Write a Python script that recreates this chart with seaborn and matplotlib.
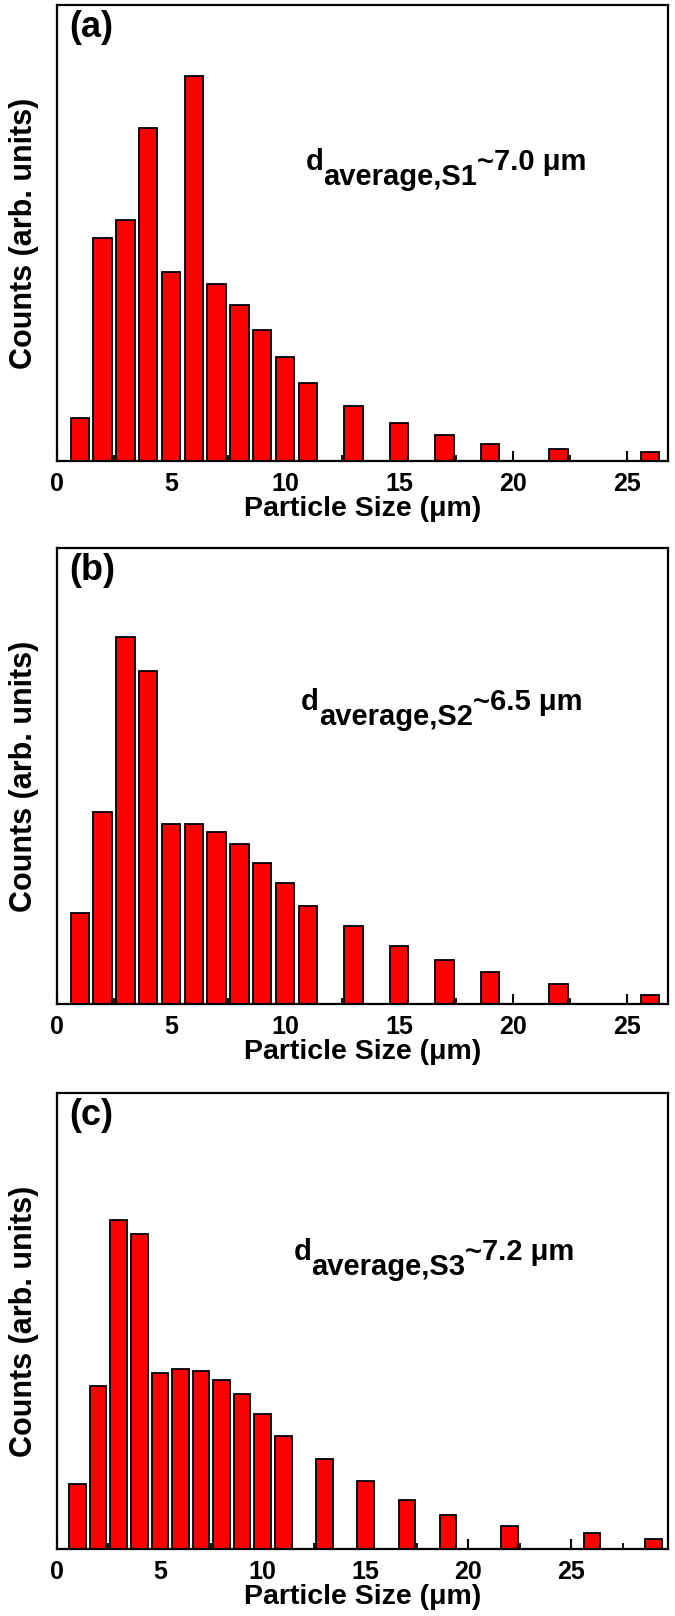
import numpy as np
import pandas as pd
import seaborn as sns
import matplotlib
matplotlib.use("Agg")
import matplotlib.pyplot as plt
from matplotlib.ticker import MultipleLocator

# ---------------- data (arbitrary units) ----------------
sizes_ab = [1, 2, 3, 4, 5, 6, 7, 8, 9, 10, 11, 13, 15, 17, 19, 22, 26]
sizes_c = [1, 2, 3, 4, 5, 6, 7, 8, 9, 10, 11, 13, 15, 17, 19, 22, 26, 29]

counts_s1 = [0.095, 0.490, 0.529, 0.730, 0.414, 0.844, 0.388, 0.343, 0.287,
             0.227, 0.170, 0.121, 0.083, 0.056, 0.038, 0.027, 0.020]
counts_s2 = [0.200, 0.421, 0.805, 0.730, 0.394, 0.394, 0.378, 0.350, 0.310,
             0.265, 0.216, 0.170, 0.128, 0.097, 0.070, 0.044, 0.020]
counts_s3 = [0.142, 0.358, 0.722, 0.690, 0.385, 0.395, 0.390, 0.371, 0.339,
             0.296, 0.248, 0.197, 0.149, 0.107, 0.075, 0.051, 0.034, 0.022]

panel_labels = ["(a)", "(b)", "(c)"]
sample_subs = ["average,S1", "average,S2", "average,S3"]
sample_vals = ["~7.0 \u03bcm", "~6.5 \u03bcm", "~7.2 \u03bcm"]
x_maxes = [26.8, 26.8, 29.7]
xtick_vals = [0, 5, 10, 15, 20, 25]
xlabel = "Particle Size (\u03bcm)"
ylabel = "Counts (arb. units)"

# ---------------- style ----------------
sns.set_style("white")
plt.rcParams["font.family"] = ["Liberation Sans", "DejaVu Sans"]
plt.rcParams["font.weight"] = "bold"
plt.rcParams["axes.labelweight"] = "bold"
plt.rcParams["text.color"] = "black"
plt.rcParams["axes.labelcolor"] = "black"
plt.rcParams["xtick.color"] = "black"
plt.rcParams["axes.edgecolor"] = "black"

fig = plt.figure(figsize=(6.75, 16.16), dpi=100)
W, H = 675.0, 1616.0
left, right = 57 / W, 668 / W
ax_h = 456 / H
bottoms_px = [461, 1004, 1549]
text_pos = [(0.407, 0.625), (0.399, 0.632), (0.387, 0.621)]

series = [(sizes_ab, counts_s1), (sizes_ab, counts_s2), (sizes_c, counts_s3)]

for i, ((xs, ys), bpx) in enumerate(zip(series, bottoms_px)):
    ax = fig.add_axes([left, 1 - bpx / H, right - left, ax_h])
    df = pd.DataFrame({"size": xs, "count": ys})
    sns.barplot(data=df, x="size", y="count", native_scale=True, width=0.8,
                color="#ff0000", saturation=1, edgecolor="black",
                linewidth=1.3, errorbar=None, ax=ax)
    ax.set_xlim(0, x_maxes[i])
    ax.set_ylim(0, 1)
    ax.set_xticks(xtick_vals)
    ax.set_xticklabels([str(v) for v in xtick_vals])
    ax.xaxis.set_minor_locator(MultipleLocator(2.5))
    ax.set_yticks([])
    ax.tick_params(axis="x", which="major", direction="in", length=7,
                   width=1.5, pad=8, labelsize=18, bottom=True, top=False,
                   colors="black")
    ax.tick_params(axis="x", which="minor", direction="in", length=4,
                   width=1.3, bottom=True, top=False, colors="black")
    for lab in ax.get_xticklabels():
        lab.set_fontweight("bold")
    for sp in ax.spines.values():
        sp.set_linewidth(1.6)
        sp.set_color("black")
        sp.set_visible(True)
    ax.set_xlabel(xlabel, fontsize=20.5, fontweight="bold", labelpad=0,
                  color="black")
    ax.set_ylabel(ylabel, fontsize=22, fontweight="bold", labelpad=13,
                  color="black")

    ax.text(0.02, 0.95, panel_labels[i], transform=ax.transAxes,
            fontsize=26, fontweight="bold", ha="left", va="center",
            color="black")

    tx, ty = text_pos[i]
    t1 = ax.text(tx, ty, "d", transform=ax.transAxes, fontsize=21,
                 fontweight="bold", ha="left", va="bottom", color="black")
    t2 = ax.annotate(sample_subs[i], xy=(1, 0), xycoords=t1,
                     xytext=(0, -11), textcoords="offset points",
                     fontsize=21, fontweight="bold", ha="left", va="bottom",
                     color="black")
    ax.annotate(sample_vals[i], xy=(1, 0), xycoords=t2,
                xytext=(0, 11), textcoords="offset points",
                fontsize=21, fontweight="bold", ha="left", va="bottom",
                color="black")

fig.savefig("out.png", dpi=100)
